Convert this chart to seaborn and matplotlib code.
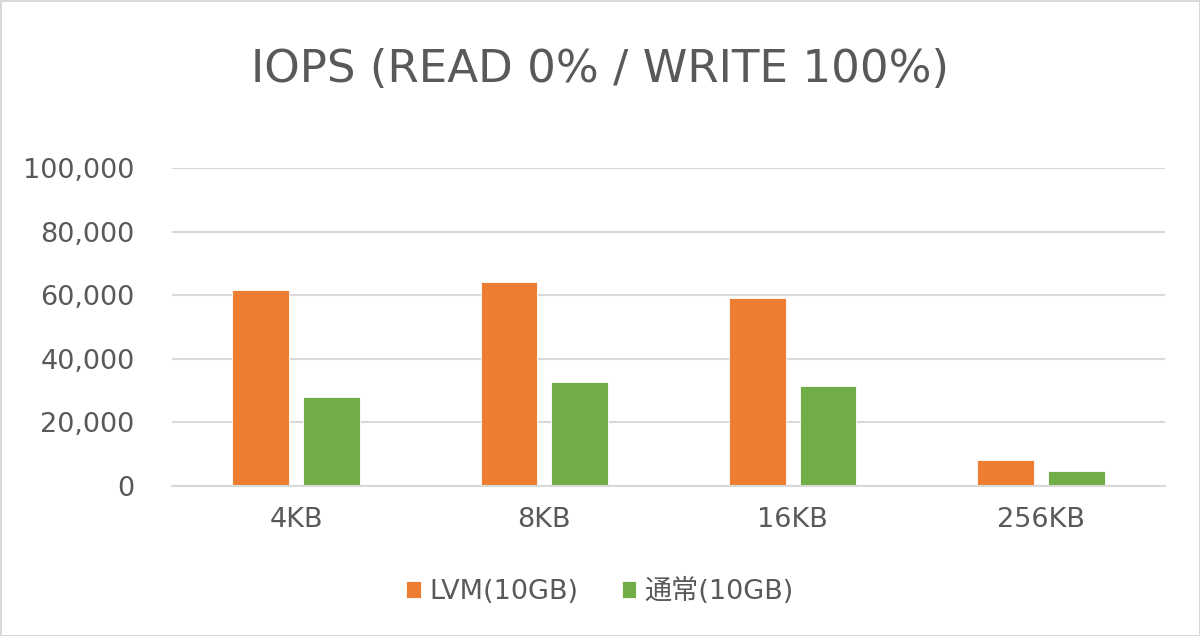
import matplotlib
matplotlib.use('Agg')
import matplotlib.pyplot as plt
import matplotlib.ticker as mticker
import pandas as pd
import seaborn as sns

sizes = ['4KB', '8KB', '16KB', '256KB']
lvm_iops = [61800, 64100, 59100, 8300]
normal_iops = [28100, 32800, 31500, 4700]
series_names = ['LVM(10GB)', '通常(10GB)']
colors = ['#ED7D31', '#70AD47']

TEXT = '#595959'
GRID = '#D9D9D9'


def make_frame():
    rows = []
    for name, vals in zip(series_names, [lvm_iops, normal_iops]):
        for s, v in zip(sizes, vals):
            rows.append({'size': s, 'iops': v, 'type': name})
    return pd.DataFrame(rows)


def main():
    sns.set_style('white')
    plt.rcParams['font.family'] = ['DejaVu Sans', 'Noto Sans CJK JP']

    df = make_frame()
    fig = plt.figure(figsize=(12, 6.36), dpi=100)
    fig.patch.set_edgecolor(GRID)
    fig.patch.set_linewidth(2)
    ax = fig.add_axes([0.1433, 0.2358, 0.8275, 0.5])

    sns.barplot(data=df, x='size', y='iops', hue='type', hue_order=series_names,
                order=sizes, palette=colors, width=0.57, gap=0.2,
                edgecolor='white', linewidth=0.6, saturation=1, ax=ax)

    ax.set_ylim(0, 100000)
    ax.set_xlim(-0.5, 3.5)
    ax.yaxis.set_major_locator(mticker.MultipleLocator(20000))
    ax.yaxis.set_major_formatter(mticker.FuncFormatter(lambda v, p: f'{int(v):,}'))
    ax.grid(axis='y', color=GRID, linewidth=1.5)
    ax.set_axisbelow(True)
    for side in ['top', 'right', 'left']:
        ax.spines[side].set_visible(False)
    ax.spines['bottom'].set_color(GRID)
    ax.spines['bottom'].set_linewidth(1.5)
    ax.tick_params(axis='both', length=0, labelsize=19.5, labelcolor=TEXT)
    ax.tick_params(axis='y', pad=27)
    ax.tick_params(axis='x', pad=15)
    ax.set_xlabel('')
    ax.set_ylabel('')

    fig.suptitle('IOPS (READ 0% / WRITE 100%)', x=0.5, y=0.925, fontsize=32.5,
                 color=TEXT)

    ax.legend(loc='center', bbox_to_anchor=(0.5, 0.07), bbox_transform=fig.transFigure,
              ncol=2, frameon=False, fontsize=19.5, labelcolor=TEXT,
              handlelength=0.55, handleheight=0.55, handletextpad=0.3,
              columnspacing=1.6)

    fig.savefig('out.png', dpi=100)
    plt.close(fig)


if __name__ == '__main__':
    main()
